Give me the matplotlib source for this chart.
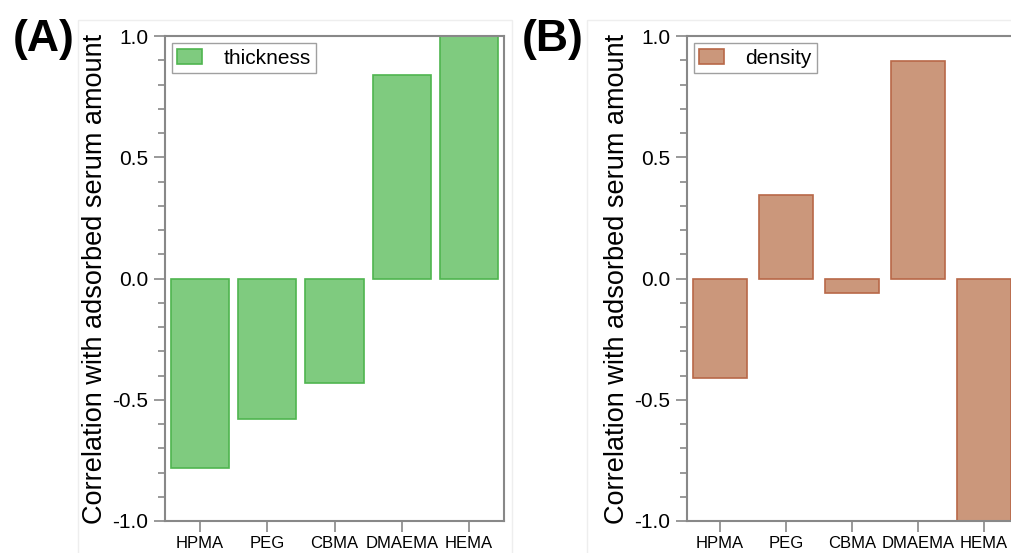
import matplotlib
matplotlib.use('Agg')
import matplotlib.pyplot as plt
from matplotlib.ticker import MultipleLocator
from matplotlib.patches import Rectangle

plt.rcParams['font.family'] = ['Liberation Sans', 'DejaVu Sans']

polymers = ['HPMA', 'PEG', 'CBMA', 'DMAEMA', 'HEMA']
thickness = [-0.78, -0.58, -0.43, 0.84, 1.0]
density = [-0.41, 0.345, -0.06, 0.895, -1.0]

fig = plt.figure(figsize=(10.12, 5.53), dpi=100)

# faint panel frames
for x0, w in [(78, 434), (587, 440)]:
    fig.patches.append(Rectangle((x0 / 1012, -0.05), w / 1012, 1 - 20 / 553 + 0.05,
                                 transform=fig.transFigure, fill=False,
                                 edgecolor='#eeeeee', linewidth=1))

axA = fig.add_axes([165 / 1012, 1 - 521 / 553, 339 / 1012, 485 / 553])
axB = fig.add_axes([687 / 1012, 1 - 521 / 553, 330 / 1012, 485 / 553])

panels = [
    (axA, thickness, 'thickness', '#7fcb7f', '#4fb54f', 0.87, (-0.52, 4.52), '(A)', 13),
    (axB, density, 'density', '#cb977b', '#b86848', 0.83, (-0.5, 4.5), '(B)', 522),
]

for ax, vals, name, fc, ec, bw, xl, tag, tx in panels:
    ax.bar(range(len(polymers)), vals, width=bw, color=fc, edgecolor=ec,
           linewidth=1.2, label=name)
    ax.set_xlim(*xl)
    ax.set_ylim(-1.0, 1.0)
    ax.set_xticks(range(len(polymers)))
    ax.set_xticklabels(polymers, fontsize=12)
    ax.yaxis.set_major_locator(MultipleLocator(0.5))
    ax.yaxis.set_minor_locator(MultipleLocator(0.1))
    ax.set_yticks([-1.0, -0.5, 0.0, 0.5, 1.0])
    ax.set_yticklabels(['-1.0', '-0.5', '0.0', '0.5', '1.0'], fontsize=15)
    ax.tick_params(axis='both', which='major', length=8, width=1.2, color='#888888', pad=4)
    ax.tick_params(axis='x', pad=3)
    ax.tick_params(axis='y', which='minor', length=5, width=1.2, color='#888888')
    for sp in ax.spines.values():
        sp.set_color('#888888')
        sp.set_linewidth(1.5)
    ax.set_ylabel('Correlation with adsorbed serum amount', fontsize=19.5, labelpad=3)
    leg = ax.legend(loc='upper left', fontsize=15, frameon=True, fancybox=False,
                    handlelength=1.2, handleheight=0.8, borderpad=0.25,
                    handletextpad=1.0, borderaxespad=0.35)
    leg.get_frame().set_edgecolor('#888888')
    leg.get_frame().set_linewidth(1.0)
    fig.text(tx / 1012, 1 - 40 / 553, tag, fontsize=32, fontweight='bold',
             ha='left', va='center')

fig.savefig('out.png', dpi=100)
